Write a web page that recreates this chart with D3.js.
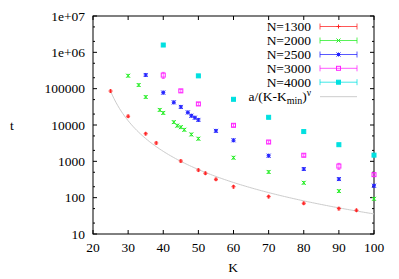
<!DOCTYPE html>
<html><head><meta charset="utf-8">
<script src="https://cdn.jsdelivr.net/npm/d3@7"></script>
<style>body{margin:0;background:#fff}svg{display:block}text{font-family:"Liberation Serif","Times New Roman",serif;font-size:13.5px;fill:#000}</style>
</head><body><svg id="c" width="399" height="279"></svg>
<script>
const seriesNames = ["N=1300","N=2000","N=2500","N=3000","N=4000"];
const colors = ["#ff2020","#22ee22","#2222ff","#ff22ff","#00e0e0"];
const K1300 = [25,30,35,38,45,50,52,55,60,70,80,90,95];
const t1300 = [86000,17400,5750,3200,1020,575,470,320,200,107,70,50,45];
const e1300 = [6000,1300,400,230,75,40,35,23,15,8,5,4,3];
const K2000 = [30,33,35,39,40,43,44,45,46,48,50,60,70,80,90,100];
const t2000 = [227000,126000,59000,26000,21500,12000,9600,8700,7400,5500,4200,1260,510,257,152,93];
const e2000 = [20000,11000,5000,2300,1900,1000,850,750,650,480,370,110,45,22,13,8];
const K2500 = [35,40,43,45,47,48,49,50,55,60,70,80,90,100];
const t2500 = [238000,78000,42000,31500,22200,18000,15900,13800,6900,3800,1430,615,325,213];
const e2500 = [20000,7000,3700,2800,1900,1600,1400,1200,600,330,125,55,28,19];
const K3000 = [40,45,50,60,70,80,90,100];
const t3000 = [236000,87000,38000,9800,3400,1470,740,430];
const e3000 = [45000,8000,3500,900,300,130,140,40];
const K4000 = [40,50,60,70,80,90,100];
const t4000 = [1590000,225000,51000,16300,6600,2870,1480];
const e4000 = [100000,15000,3500,1100,450,200,100];
const fitA = 1.2e7, fitKmin = 19.5, fitNu = 2.9, fitRange = [25,100];
const xTicks = [20,30,40,50,60,70,80,90,100];
const yTicks = [10,100,1000,10000,100000,1000000,10000000];
const yTickLabels = ["10","100","1000","10000","100000","1e+06","1e+07"];

const Ks=[K1300,K2000,K2500,K3000,K4000], Ts=[t1300,t2000,t2500,t3000,t4000], Es=[e1300,e2000,e2500,e3000,e4000];
const svg=d3.select("#c");
const L=93,R=374,T=16,B=234;
const x=d3.scaleLinear().domain([20,100]).range([L,R]);
const y=d3.scaleLog().domain([10,1e7]).range([B,T]);

svg.append("rect").attr("x",L).attr("y",T).attr("width",R-L).attr("height",B-T).attr("fill","none").attr("stroke","#000").attr("stroke-width",1);
const g=svg.append("g");
xTicks.forEach(v=>{
  g.append("line").attr("x1",x(v)).attr("x2",x(v)).attr("y1",B).attr("y2",B-4).attr("stroke","#000");
  g.append("line").attr("x1",x(v)).attr("x2",x(v)).attr("y1",T).attr("y2",T+4).attr("stroke","#000");
  g.append("text").attr("x",x(v)).attr("y",252).attr("text-anchor","middle").text(v);
});
yTicks.forEach((v,i)=>{
  g.append("line").attr("x1",L).attr("x2",L+4).attr("y1",y(v)).attr("y2",y(v)).attr("stroke","#000");
  g.append("line").attr("x1",R).attr("x2",R-4).attr("y1",y(v)).attr("y2",y(v)).attr("stroke","#000");
  g.append("text").attr("x",85).attr("y",y(v)+4.5).attr("text-anchor","end").text(yTickLabels[i]);
  if(v<1e7){[2,5].forEach(m=>{const yy=y(v*m);
    g.append("line").attr("x1",L).attr("x2",L+2).attr("y1",yy).attr("y2",yy).attr("stroke","#000");
    g.append("line").attr("x1",R).attr("x2",R-2).attr("y1",yy).attr("y2",yy).attr("stroke","#000");});}
});
svg.append("text").attr("x",233).attr("y",272).attr("text-anchor","middle").text("K");
svg.append("text").attr("x",12).attr("y",130).attr("text-anchor","middle").text("t");

const fk=d3.range(fitRange[0],fitRange[1]+0.001,0.5);
svg.append("path").attr("d",d3.line().x(k=>x(k)).y(k=>y(fitA/Math.pow(k-fitKmin,fitNu)))(fk))
  .attr("fill","none").attr("stroke","#cccccc").attr("stroke-width",1);

function marker(sel,type,cx,cy,c){
  const s=2;
  if(type===0){sel.append("path").attr("d",`M${cx-s},${cy}H${cx+s}M${cx},${cy-s}V${cy+s}`).attr("stroke",c).attr("fill","none");}
  else if(type===1){sel.append("path").attr("d",`M${cx-s},${cy-s}L${cx+s},${cy+s}M${cx-s},${cy+s}L${cx+s},${cy-s}`).attr("stroke",c).attr("fill","none");}
  else if(type===2){sel.append("path").attr("d",`M${cx-s},${cy}H${cx+s}M${cx},${cy-s}V${cy+s}M${cx-s},${cy-s}L${cx+s},${cy+s}M${cx-s},${cy+s}L${cx+s},${cy-s}`).attr("stroke",c).attr("fill","none");}
  else if(type===3){sel.append("rect").attr("x",cx-s).attr("y",cy-s).attr("width",2*s).attr("height",2*s).attr("fill","none").attr("stroke",c);}
  else {sel.append("rect").attr("x",cx-s).attr("y",cy-s).attr("width",2*s).attr("height",2*s).attr("fill",c).attr("stroke",c);}
}
Ks.forEach((ks,si)=>{
  const c=colors[si], gs=svg.append("g");
  ks.forEach((k,i)=>{
    const cx=x(k), cy=y(Ts[si][i]), y1=y(Ts[si][i]+Es[si][i]), y2=y(Math.max(Ts[si][i]-Es[si][i],1));
    gs.append("path").attr("d",`M${cx},${y1}V${y2}M${cx-1.5},${y1}H${cx+1.5}M${cx-1.5},${y2}H${cx+1.5}`).attr("stroke",c).attr("fill","none").attr("opacity",0.7);
    marker(gs,si,cx,cy,c);
  });
});

const ly=[26.5,40.5,54.5,68.3,82.2,96.7];
seriesNames.forEach((n,i)=>{
  svg.append("text").attr("x",311).attr("y",ly[i]+4.5).attr("text-anchor","end").text(n);
  const c=colors[i];
  svg.append("path").attr("d",`M320,${ly[i]}H357M320,${ly[i]-3}V${ly[i]+3}M357,${ly[i]-3}V${ly[i]+3}`).attr("stroke",c).attr("fill","none").attr("opacity",0.75);
  marker(svg,i,338.5,ly[i],c);
});
const ft=svg.append("text").attr("x",311).attr("y",ly[5]+4.5).attr("text-anchor","end");
ft.append("tspan").text("a/(K-K");
ft.append("tspan").attr("dy",3).attr("font-size","10px").text("min");
ft.append("tspan").attr("dy",-3).text(")");
ft.append("tspan").attr("dy",-5).attr("font-size","9.5px").text("ν");
svg.append("line").attr("x1",320).attr("x2",357).attr("y1",ly[5]).attr("y2",ly[5]).attr("stroke","#cccccc");
</script></body></html>
